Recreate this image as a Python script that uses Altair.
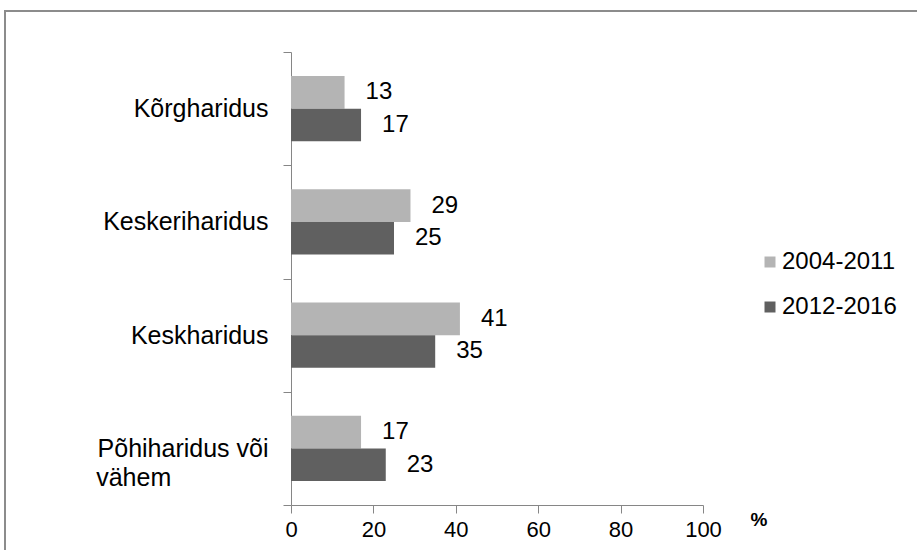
import altair as alt
import pandas as pd

# Education level shares (%) for two periods
categories = ["Kõrgharidus", "Keskeriharidus", "Keskharidus", "Põhiharidus või vähem"]
periods = ["2004-2011", "2012-2016"]
values_2004_2011 = [13, 29, 41, 17]
values_2012_2016 = [17, 25, 35, 23]
x_ticks = [0, 20, 40, 60, 80, 100]
colors = ["#b4b4b4", "#606060"]

FONT = "Liberation Sans"
AXIS_GRAY = "#868686"
FRAME_GRAY = "#8c8c8c"

# plot area and surrounding margins (pixels)
PLOT_W, PLOT_H = 412, 453
PAD_L, PAD_T, PAD_R, PAD_B = 291, 52, 214, 45

rows = []
for cat, a, b in zip(categories, values_2004_2011, values_2012_2016):
    rows.append({"category": cat, "period": periods[0], "value": a})
    rows.append({"category": cat, "period": periods[1], "value": b})
df = pd.DataFrame(rows)

# last category label is split over two lines; the second line is padded with
# no-break spaces (closed by a zero-width space so they survive trimming)
pad = "\u00a0" * 14 + "\u200b"
label_expr = (
    "datum.value == 'Põhiharidus või vähem' ? "
    f"['Põhiharidus või', 'vähem{pad}'] : datum.value"
)

base = alt.Chart(df).encode(
    y=alt.Y(
        "category:N",
        sort=categories,
        scale=alt.Scale(paddingInner=0, paddingOuter=0),
        axis=alt.Axis(
            title=None,
            labelExpr=label_expr,
            labelFont=FONT,
            labelFontSize=25,
            labelColor="black",
            labelLineHeight=29,
            labelPadding=15,
            tickBand="extent",
            tickSize=8,
            tickColor=AXIS_GRAY,
            domainColor=AXIS_GRAY,
            grid=False,
        ),
    ),
    yOffset=alt.YOffset(
        "period:N",
        sort=periods,
        scale=alt.Scale(paddingInner=0, paddingOuter=0.74),
    ),
    x=alt.X(
        "value:Q",
        scale=alt.Scale(domain=[0, 100]),
        axis=alt.Axis(
            title=None,
            values=x_ticks,
            labelFont=FONT,
            labelFontSize=22,
            labelColor="black",
            labelPadding=6,
            labelFlush=False,
            tickSize=8,
            tickColor=AXIS_GRAY,
            domainColor=AXIS_GRAY,
            grid=False,
        ),
    ),
)

bars = base.mark_bar().encode(
    color=alt.Color(
        "period:N",
        sort=periods,
        scale=alt.Scale(domain=periods, range=colors),
        legend=alt.Legend(
            title=None,
            orient="none",
            legendX=467,
            legendY=198,
            symbolType="square",
            symbolSize=121,
            symbolStrokeWidth=0,
            labelFont=FONT,
            labelFontSize=24,
            labelColor="black",
            labelOffset=0,
            rowPadding=21,
            padding=0,
        ),
    )
)

labels = base.mark_text(
    align="left", baseline="middle", dx=21, font=FONT, fontSize=24, color="black"
).encode(text="value:Q")

unit = pd.DataFrame({"t": ["%"]})
unit_label = alt.Chart(unit).mark_text(
    font=FONT, fontSize=19, fontWeight="bold", color="black", baseline="middle"
).encode(x=alt.value(468), y=alt.value(468), text="t:N")

# outer frame: top and left edges, kept inside the canvas
frame_top = alt.Chart(unit).mark_rule(color=FRAME_GRAY, strokeWidth=2).encode(
    x=alt.value(-287), x2=alt.value(PLOT_W + PAD_R), y=alt.value(-41)
)
frame_left = alt.Chart(unit).mark_rule(color=FRAME_GRAY, strokeWidth=2).encode(
    x=alt.value(-286), y=alt.value(-42), y2=alt.value(PLOT_H + PAD_B)
)

chart = (
    alt.layer(frame_top, frame_left, bars, labels, unit_label)
    .properties(
        width=PLOT_W,
        height=PLOT_H,
        autosize=alt.AutoSizeParams(type="none"),
        padding={"left": PAD_L, "top": PAD_T, "right": PAD_R, "bottom": PAD_B},
        background="white",
    )
    .configure_view(stroke=None)
)

chart.save("out.html", embed_options={"renderer": "svg", "actions": False})
